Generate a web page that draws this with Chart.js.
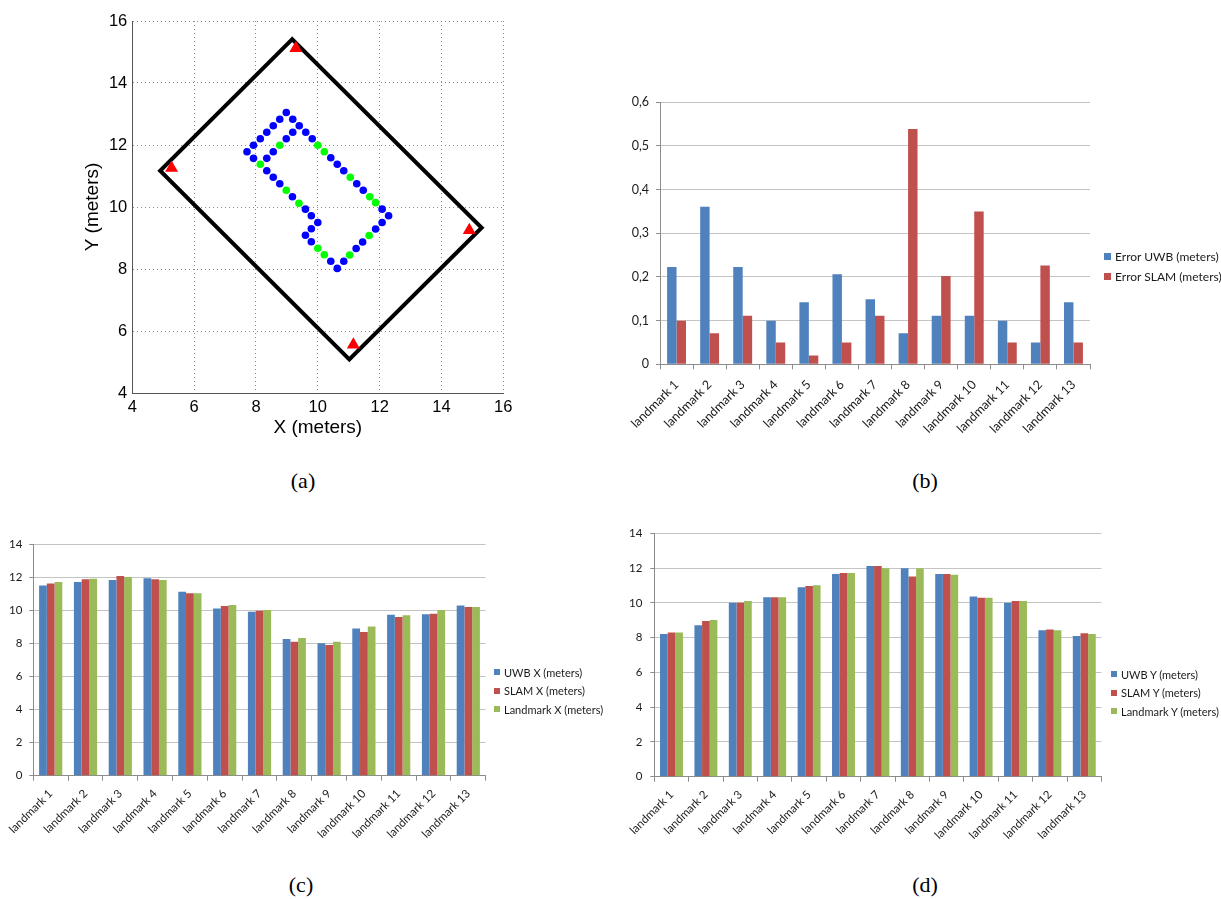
<!DOCTYPE html>
<html>
<head>
<meta charset="utf-8">
<title>UWB and SLAM landmark localisation</title>
<script src="https://cdn.jsdelivr.net/npm/chart.js@4.4.1/dist/chart.umd.min.js"></script>
<style>
  html, body { margin: 0; padding: 0; background: #fff; }
  #page { position: relative; width: 1221px; height: 899px; overflow: hidden; background: #fff; }
  #page canvas { position: absolute; }
  .cap { position: absolute; font-family: "Liberation Serif", "Times New Roman", serif; font-size: 22px; color: #000;
         transform: translate(-50%, -50%); white-space: nowrap; }
  .legend-item { position: absolute; display: flex; align-items: center; white-space: nowrap;
                 font-family: Lato, "Open Sans", sans-serif; color: #1a1a1a; }
  .legend-item span.box { display: inline-block; margin-right: 4px; }
</style>
</head>
<body>
<div id="page">
  <canvas id="chartA" width="560" height="445" style="left:0px;top:0px"></canvas>
  <canvas id="chartB" width="621" height="380" style="left:600px;top:80px"></canvas>
  <canvas id="chartC" width="620" height="320" style="left:0px;top:520px"></canvas>
  <canvas id="chartD" width="601" height="330" style="left:620px;top:510px"></canvas>
  <div class="cap" style="left:303px;top:481px">(a)</div>
  <div class="cap" style="left:925px;top:481px">(b)</div>
  <div class="cap" style="left:301px;top:885px">(c)</div>
  <div class="cap" style="left:925px;top:885px">(d)</div>
</div>
<script>
// ---------- (a) map of the room, robot path and UWB anchors ----------
const roomX = [9.17, 15.30, 11.02, 4.90, 9.17];
const roomY = [15.41, 9.33, 5.08, 11.17, 15.41];

const anchorX = [9.29, 5.27, 14.90, 11.15];
const anchorY = [15.12, 11.26, 9.25, 5.56];

const pathX = [7.71, 7.92, 8.14, 8.35, 8.56, 8.77, 8.98, 9.19, 9.40, 9.61, 9.82,
               10.42, 10.63, 10.84, 11.26, 11.47, 12.08, 12.29, 12.08, 11.87, 11.45,
               11.24, 10.84, 10.63, 10.42, 9.79, 9.60, 9.79, 10.00, 9.79, 9.60,
               9.18, 8.77, 8.56, 8.35, 7.92, 8.35, 8.56, 8.98, 9.19];
const pathY = [11.78, 11.99, 12.20, 12.41, 12.62, 12.83, 13.05, 12.83, 12.62, 12.41, 12.20,
               11.59, 11.38, 11.17, 10.75, 10.54, 9.93, 9.72, 9.50, 9.29, 8.87,
               8.66, 8.25, 8.02, 8.25, 8.88, 9.09, 9.30, 9.50, 9.72, 9.93,
               10.33, 10.75, 10.96, 11.17, 11.57, 11.57, 11.78, 12.20, 12.41];

const markX = [10.00, 10.21, 11.05, 11.68, 11.87, 11.66, 11.03, 10.21, 10.00, 9.39, 8.98, 8.14, 8.77];
const markY = [11.99, 11.78, 10.96, 10.33, 10.14, 9.08, 8.45, 8.46, 8.67, 10.12, 10.54, 11.38, 11.99];

// ---------- (b), (c), (d) per-landmark results ----------
const landmarks = ['landmark 1', 'landmark 2', 'landmark 3', 'landmark 4', 'landmark 5',
                   'landmark 6', 'landmark 7', 'landmark 8', 'landmark 9', 'landmark 10',
                   'landmark 11', 'landmark 12', 'landmark 13'];

const errorUWB  = [0.223, 0.361, 0.223, 0.100, 0.142, 0.206, 0.149, 0.071, 0.111, 0.111, 0.100, 0.050, 0.142];
const errorSLAM = [0.100, 0.071, 0.111, 0.050, 0.020, 0.050, 0.111, 0.539, 0.202, 0.350, 0.050, 0.226, 0.050];

const uwbX      = [11.50, 11.70, 11.83, 11.93, 11.12, 10.11, 9.91, 8.26, 8.00, 8.90, 9.73, 9.75, 10.29];
const slamX     = [11.62, 11.87, 12.07, 11.87, 11.02, 10.25, 9.97, 8.10, 7.90, 8.68, 9.59, 9.79, 10.19];
const landmarkX = [11.70, 11.90, 12.00, 11.83, 11.02, 10.31, 10.01, 8.32, 8.10, 9.02, 9.69, 10.01, 10.19];

const uwbY      = [8.21, 8.71, 10.01, 10.32, 10.89, 11.66, 12.12, 11.99, 11.66, 10.36, 10.01, 8.42, 8.09];
const slamY     = [8.30, 8.96, 10.01, 10.32, 10.97, 11.72, 12.12, 11.51, 11.66, 10.30, 10.11, 8.46, 8.25];
const landmarkY = [8.30, 9.01, 10.11, 10.32, 11.01, 11.72, 11.99, 11.99, 11.62, 10.30, 10.11, 8.42, 8.21];

const errorTicks = [0, 0.1, 0.2, 0.3, 0.4, 0.5, 0.6];
const meterTicks = [0, 2, 4, 6, 8, 10, 12, 14];

const BLUE = '#4F81BD', RED = '#C0504D', GREEN = '#9BBB59';
const XL_FONT = 'Lato, "Open Sans", sans-serif';
const ML_FONT = '"Liberation Sans", Arial, sans-serif';

function zip(xs, ys) { return xs.map((x, i) => ({ x: x, y: ys[i] })); }

// ---------- (a) ----------
new Chart(document.getElementById('chartA'), {
  type: 'scatter',
  data: {
    datasets: [
      { label: 'Anchors', data: zip(anchorX, anchorY), pointStyle: 'triangle', pointRadius: 7.5,
        backgroundColor: '#ff0000', borderColor: '#ff0000', borderWidth: 0 },
      { label: 'Landmarks', data: zip(markX, markY), pointRadius: 3.8,
        backgroundColor: '#00ff00', borderColor: '#00ff00', borderWidth: 0 },
      { label: 'Path', data: zip(pathX, pathY), pointRadius: 3.8,
        backgroundColor: '#0000ff', borderColor: '#0000ff', borderWidth: 0 },
      { label: 'Room', data: zip(roomX, roomY), showLine: true, pointRadius: 0, borderWidth: 4,
        borderColor: '#000', backgroundColor: '#000', tension: 0, fill: false,
        borderJoinStyle: 'miter', borderCapStyle: 'square' }
    ]
  },
  options: {
    responsive: false, animation: false, devicePixelRatio: 1,
    layout: { padding: { left: 80, top: 21, right: 56.7, bottom: 0 } },
    plugins: { legend: { display: false }, tooltip: { enabled: false } },
    scales: {
      x: {
        type: 'linear', min: 4, max: 16,
        afterFit: s => { s.height = 52; },
        ticks: { stepSize: 2, color: '#000', padding: 4.5, font: { family: ML_FONT, size: 16.5 } },
        grid: { color: '#8a8a8a', lineWidth: 1, drawTicks: false },
        border: { display: true, color: '#555', width: 1, dash: [1, 3] },
        title: { display: true, text: 'X (meters)', color: '#000',
                 font: { family: ML_FONT, size: 19 }, padding: { top: 0, bottom: 5.6 } }
      },
      y: {
        type: 'linear', min: 4, max: 16,
        afterFit: s => { s.width = 52.3; },
        ticks: { stepSize: 2, color: '#000', padding: 5, font: { family: ML_FONT, size: 16.5 } },
        grid: { color: '#8a8a8a', lineWidth: 1, drawTicks: false },
        border: { display: true, color: '#555', width: 1, dash: [1, 3] },
        title: { display: true, text: 'Y (meters)', color: '#000',
                 font: { family: ML_FONT, size: 19 }, padding: { top: 1, bottom: 0 } }
      }
    }
  }
});

// ---------- shared builder for the Excel-style grouped bar charts ----------
function barChart(id, series, cfg) {
  return new Chart(document.getElementById(id), {
    type: 'bar',
    data: {
      labels: landmarks,
      datasets: series.map(s => ({ label: s.label, data: s.data, backgroundColor: s.color,
                                   borderWidth: 0, barPercentage: 1.0,
                                   categoryPercentage: cfg.catPct }))
    },
    options: {
      responsive: false, animation: false, devicePixelRatio: 1,
      layout: { padding: cfg.padding },
      plugins: { legend: { display: false }, tooltip: { enabled: false } },
      scales: {
        x: {
          afterFit: s => { s.height = cfg.xHeight; },
          ticks: { autoSkip: false, minRotation: 45, maxRotation: 45, padding: cfg.xPad,
                   color: '#1a1a1a', font: { family: XL_FONT, size: cfg.fontSize } },
          grid: { offset: true, drawOnChartArea: false, drawTicks: true, tickLength: 5,
                  color: '#8c8c8c', tickColor: '#8c8c8c' },
          border: { display: true, color: '#8c8c8c', width: 1 }
        },
        y: {
          min: cfg.yMin, max: cfg.yMax,
          afterFit: s => { s.width = cfg.yWidth; },
          afterBuildTicks: s => { s.ticks = cfg.yTicks.map(v => ({ value: v })); },
          ticks: { padding: cfg.yPad, color: '#1a1a1a', callback: cfg.yFormat,
                   font: { family: XL_FONT, size: cfg.fontSize } },
          grid: { color: '#c4c4c4', tickColor: '#8c8c8c', drawTicks: true, tickLength: 4 },
          border: { display: true, color: '#8c8c8c', width: 1 }
        }
      }
    }
  });
}

// HTML legend built from a chart's datasets
function legend(chart, left, rows, box, fontSize) {
  const page = document.getElementById('page');
  chart.data.datasets.forEach((ds, i) => {
    const item = document.createElement('div');
    item.className = 'legend-item';
    item.style.left = left + 'px';
    item.style.top = (rows[i] - 9) + 'px';
    item.style.height = '18px';
    item.style.fontSize = fontSize + 'px';
    const sq = document.createElement('span');
    sq.className = 'box';
    sq.style.width = box + 'px';
    sq.style.height = box + 'px';
    sq.style.background = ds.backgroundColor;
    item.appendChild(sq);
    item.appendChild(document.createTextNode(ds.label));
    page.appendChild(item);
  });
}

const commaFmt = v => (v === 0 ? '0' : v.toFixed(1).replace('.', ','));
const intFmt = v => String(v);

// ---------- (b) ----------
const chartB = barChart('chartB', [
  { label: 'Error UWB (meters)', data: errorUWB, color: BLUE },
  { label: 'Error SLAM (meters)', data: errorSLAM, color: RED }
], { catPct: 2 / 3.5, padding: { left: 0, top: 22.3, right: 131, bottom: 0 },
     xHeight: 95.7, yWidth: 60, yMin: 0, yMax: 0.6, yTicks: errorTicks, yFormat: commaFmt,
     yPad: 7, xPad: 8, fontSize: 12.5 });
legend(chartB, 1104, [256.7, 276.7], 7, 12);

// ---------- (c) ----------
const chartC = barChart('chartC', [
  { label: 'UWB X (meters)', data: uwbX, color: BLUE },
  { label: 'SLAM X (meters)', data: slamX, color: RED },
  { label: 'Landmark X (meters)', data: landmarkX, color: GREEN }
], { catPct: 3 / 4.5, padding: { left: 0, top: 24, right: 134.3, bottom: 0 },
     xHeight: 64.3, yWidth: 33.3, yMin: 0, yMax: 14, yTicks: meterTicks, yFormat: intFmt,
     yPad: 7, xPad: 6, fontSize: 11.5 });
legend(chartC, 494, [672.3, 690.7, 709], 6, 11);

// ---------- (d) ----------
const chartD = barChart('chartD', [
  { label: 'UWB Y (meters)', data: uwbY, color: BLUE },
  { label: 'SLAM Y (meters)', data: slamY, color: RED },
  { label: 'Landmark Y (meters)', data: landmarkY, color: GREEN }
], { catPct: 3 / 4.5, padding: { left: 0, top: 23.3, right: 119.5, bottom: 0 },
     xHeight: 63.3, yWidth: 34.3, yMin: 0, yMax: 14, yTicks: meterTicks, yFormat: intFmt,
     yPad: 8, xPad: 6, fontSize: 11.5 });
legend(chartD, 1111, [674.3, 692.7, 711], 6, 11);
</script>
</body>
</html>
